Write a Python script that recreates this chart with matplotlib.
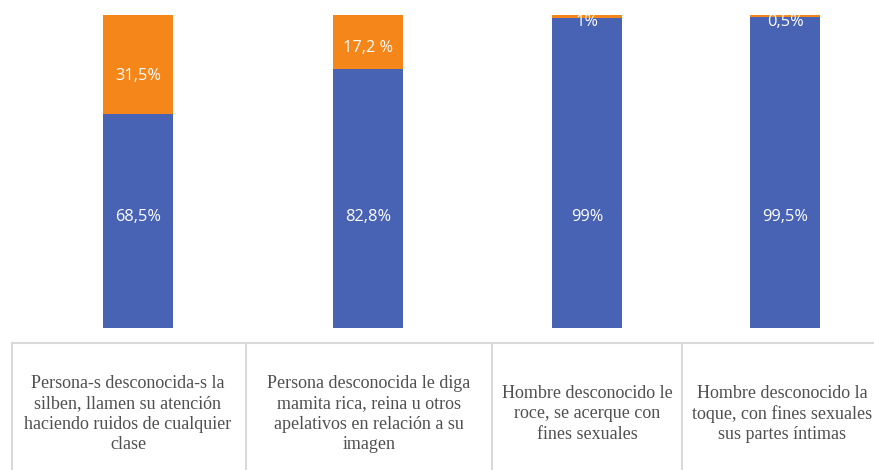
import matplotlib.pyplot as plt
from matplotlib.lines import Line2D

# --- Data ---
categories = [
    "Persona-s desconocida-s la\nsilben, llamen su atención\nhaciendo ruidos de cualquier\nclase",
    "Persona desconocida le diga\nmamita rica, reina u otros\napelativos en relación a su\nimagen",
    "Hombre desconocido le\nroce, se acerque con\nfines sexuales",
    "Hombre desconocido la\ntoque, con fines sexuales\nsus partes íntimas",
]
no_values = [68.5, 82.8, 99.0, 99.5]     # blue segment
si_values = [31.5, 17.2, 1.0, 0.5]       # orange segment
no_labels = ["68,5%", "82,8%", "99%", "99,5%"]
si_labels = ["31,5%", "17,2 %", "1%", "0,5%"]

# --- Style ---
W, H = 874, 470
blue = "#4862B4"
orange = "#F4861A"
grid_gray = "#D9D9D9"
text_gray = "#505050"

# table cell borders and bar centres (pixels from left)
cell_edges = [12, 246, 492, 682, 890]
cell_centers = [128, 369, 587, 782]
bar_x = [138, 368, 587, 785]

fig = plt.figure(figsize=(W / 100, H / 100), dpi=100)

# bar area: bottom at y=328 px, top (100%) at y=15 px
ax = fig.add_axes([0, (H - 328) / H, 1, 313 / H])
ax.set_xlim(0, W)
ax.set_ylim(0, 100)
ax.axis("off")

ax.bar(bar_x, no_values, width=70, color=blue, edgecolor="none")
ax.bar(bar_x, si_values, width=70, bottom=no_values, color=orange, edgecolor="none")

label_font = dict(family=["Open Sans", "DejaVu Sans"], fontsize=11.8, color="white",
                  ha="center", va="center")
for x, nv, sv, nl, sl in zip(bar_x, no_values, si_values, no_labels, si_labels):
    ax.text(x, 35.5, nl, **label_font)
    # thin segments: put the label just under the top edge
    y_top = nv + sv * 0.38 if sv > 10 else 97.7
    ax.text(x, y_top, sl, **label_font)

# category table underneath
top_y = 1 - 343 / H
fig.add_artist(Line2D([12 / W, 1], [top_y, top_y], color=grid_gray, lw=1.5,
                      transform=fig.transFigure))
for e in cell_edges[:-1]:
    fig.add_artist(Line2D([e / W, e / W], [0, top_y], color=grid_gray, lw=1.5,
                          transform=fig.transFigure))

for x, cat in zip(cell_centers, categories):
    fig.text(x / W, 1 - 414 / H, cat, ha="center", va="center",
             family=["Liberation Serif"], fontsize=13, color=text_gray,
             linespacing=1.26)

fig.savefig("out.png", dpi=100)
